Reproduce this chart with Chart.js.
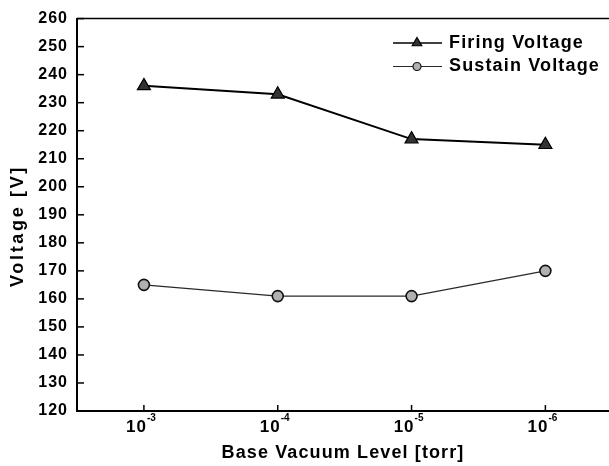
<!DOCTYPE html>
<html><head><meta charset="utf-8">
<script src="https://cdn.jsdelivr.net/npm/chart.js@4/dist/chart.umd.min.js"></script>
<style>
html,body{margin:0;padding:0;background:#fff;overflow:hidden;width:609px;height:466px}
canvas{display:block}
</style></head>
<body><canvas id="c" width="621" height="466" style="width:621px;height:466px"></canvas>
<script>
// ---- data ----
const categories = ['10^-3', '10^-4', '10^-5', '10^-6'];
const firingVoltage = [236, 233, 217, 215];
const sustainVoltage = [165, 161, 161, 170];
const seriesNames = ['Firing Voltage', 'Sustain Voltage'];
const yMin = 120, yMax = 260, yStep = 10;
const xTitle = 'Base Vacuum Level [torr]';
const yTitle = 'Voltage [V]';

const FONT = '"Liberation Sans", Arial, sans-serif';

function fitText(ctx, text, target) {
  ctx.letterSpacing = '0px';
  const w = ctx.measureText(text).width;
  const s = Math.max(0, (target - w) / text.length);
  ctx.letterSpacing = s.toFixed(2) + 'px';
}

function drawMarker(ctx, style, cx, cy, r, fill, stroke, lw) {
  ctx.beginPath();
  if (style === 'triangle') {
    for (let k = 0; k < 3; k++) {
      const ang = -Math.PI / 2 + k * 2 * Math.PI / 3;
      const px = cx + r * Math.cos(ang), py = cy + r * Math.sin(ang);
      k ? ctx.lineTo(px, py) : ctx.moveTo(px, py);
    }
    ctx.closePath();
  } else {
    ctx.arc(cx, cy, r, 0, Math.PI * 2);
  }
  ctx.fillStyle = fill; ctx.fill();
  ctx.strokeStyle = stroke; ctx.lineWidth = lw; ctx.stroke();
}

const decor = {
  id: 'decor',
  beforeDraw(chart) { chart.ctx.letterSpacing = '1px'; },
  afterDraw(chart) {
    const {ctx, chartArea: a, scales: {x, y}} = chart;
    ctx.save();
    ctx.strokeStyle = '#000';
    // top frame
    ctx.lineWidth = 1.5;
    ctx.beginPath(); ctx.moveTo(a.left, a.top); ctx.lineTo(a.right, a.top); ctx.stroke();
    // inward ticks
    ctx.lineWidth = 1.5;
    y.ticks.forEach((t, i) => {
      const p = y.getPixelForTick(i);
      ctx.beginPath(); ctx.moveTo(a.left, p); ctx.lineTo(a.left + 7, p); ctx.stroke();
    });
    x.ticks.forEach((t, i) => {
      const p = x.getPixelForTick(i);
      ctx.beginPath(); ctx.moveTo(p, a.bottom); ctx.lineTo(p, a.bottom - 6); ctx.stroke();
    });
    // x tick labels with superscript exponent
    ctx.fillStyle = '#000';
    ctx.textBaseline = 'alphabetic';
    categories.forEach((lab, i) => {
      const [base, exp] = lab.split('^');
      const p = x.getPixelForValue(i);
      ctx.font = 'bold 17px ' + FONT; ctx.letterSpacing = '1px';
      ctx.textAlign = 'right';
      ctx.fillText(base, p + 3, a.bottom + 21);
      ctx.font = 'bold 10px ' + FONT; ctx.letterSpacing = '0px';
      ctx.textAlign = 'left';
      ctx.fillText(exp, p + 3, a.bottom + 10);
    });
    // axis titles
    ctx.font = 'bold 18px ' + FONT;
    ctx.textAlign = 'center';
    fitText(ctx, xTitle, 243);
    ctx.fillText(xTitle, 343, 458);
    ctx.save();
    ctx.translate(23, 226);
    ctx.rotate(-Math.PI / 2);
    ctx.font = 'bold 18px ' + FONT;
    fitText(ctx, yTitle, 122);
    ctx.fillText(yTitle, 0, 0);
    ctx.restore();
    // legend
    const rows = [43, 66.5];
    chart.data.datasets.forEach((ds, i) => {
      const ry = rows[i];
      ctx.strokeStyle = ds.borderColor; ctx.lineWidth = i === 0 ? 1.6 : 1.2;
      ctx.beginPath(); ctx.moveTo(393, ry); ctx.lineTo(442, ry); ctx.stroke();
      drawMarker(ctx, ds.pointStyle, 417, ry, i === 0 ? 5.5 : 4,
                 ds.pointBackgroundColor, ds.pointBorderColor, 1.2);
      ctx.fillStyle = '#000';
      ctx.font = 'bold 18px ' + FONT;
      ctx.textAlign = 'left';
      ctx.textBaseline = 'middle';
      fitText(ctx, ds.label, i === 0 ? 135 : 151);
      ctx.fillText(ds.label, 449, ry);
    });
    ctx.restore();
  }
};

new Chart(document.getElementById('c'), {
  type: 'line',
  data: {
    labels: categories,
    datasets: [
      {
        label: seriesNames[0], data: firingVoltage,
        borderColor: '#000', borderWidth: 2,
        pointStyle: 'triangle', pointRadius: 7.5, pointHoverRadius: 7.5,
        pointBackgroundColor: '#333', pointBorderColor: '#000', pointBorderWidth: 1.2
      },
      {
        label: seriesNames[1], data: sustainVoltage,
        borderColor: '#2a2a2a', borderWidth: 1.4,
        pointStyle: 'circle', pointRadius: 5.5, pointHoverRadius: 5.5,
        pointBackgroundColor: '#b0b0b0', pointBorderColor: '#111', pointBorderWidth: 1.6
      }
    ]
  },
  options: {
    responsive: false, maintainAspectRatio: false, animation: false,
    devicePixelRatio: 1,
    layout: { padding: { top: 17, right: 0, left: 0, bottom: 0 } },
    plugins: { legend: { display: false }, tooltip: { enabled: false } },
    scales: {
      x: {
        type: 'category', offset: true,
        grid: { display: false, drawTicks: false },
        border: { display: true, color: '#000', width: 2 },
        ticks: { display: false },
        afterFit: s => { s.height = 55; }
      },
      y: {
        min: yMin, max: yMax,
        grid: { display: false, drawTicks: false },
        border: { display: true, color: '#000', width: 2 },
        ticks: { stepSize: yStep, padding: 9, color: '#000', font: { family: FONT, size: 16, weight: 'bold' } },
        afterFit: s => { s.width = 77; }
      }
    }
  },
  plugins: [decor]
});
</script>
</body></html>
